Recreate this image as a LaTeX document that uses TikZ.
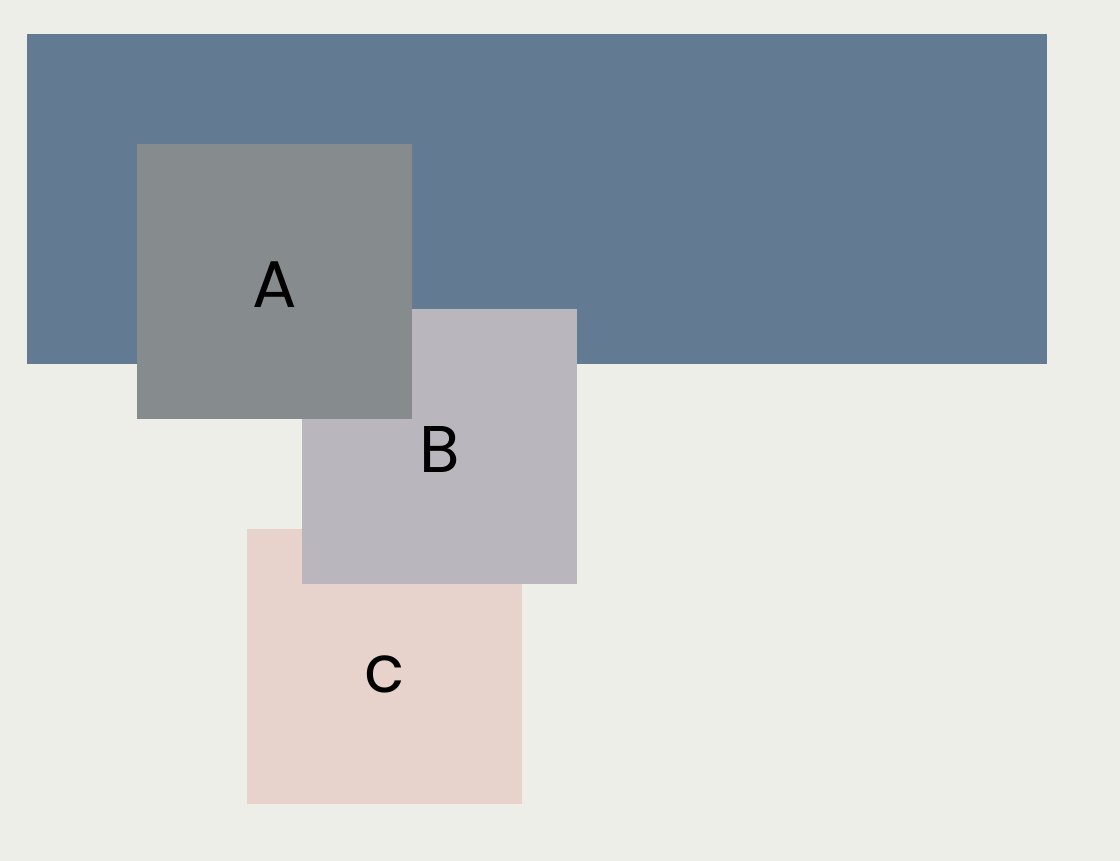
\documentclass[tikz,border=0pt]{standalone}
\usepackage{fontspec}
\setmainfont{Poppins}
\usetikzlibrary{positioning}

\definecolor{bgcol}{HTML}{EEEEE8}
\definecolor{bandcol}{HTML}{637A93}
\definecolor{acol}{HTML}{868B8E}
\definecolor{bcol}{HTML}{B9B6BD}
\definecolor{ccol}{HTML}{E8D2CC}

\begin{document}
\begin{tikzpicture}[x=1pt, y=1pt,
		tile/.style={minimum size=275pt, inner sep=0pt, draw=none,
			text height=52pt, text depth=0pt,
			font=\fontsize{66}{66}\selectfont}]
			\fill [bgcol] (0, 0) rectangle (1120, 861);
			\useasboundingbox (0, 0) rectangle (1120, 861);

			\node (band) at (537, 662) [fill=bandcol, minimum width=1020pt, minimum height=330pt, inner sep=0pt] {};

			\node (c) at (384.5, 194.5) [tile, fill=ccol] {c};
			\node (b) at (439.5, 414.5) [tile, fill=bcol] {B};
			\node (a) at (274.5, 579.5) [tile, fill=acol] {A};
		\end{tikzpicture}
\end{document}
